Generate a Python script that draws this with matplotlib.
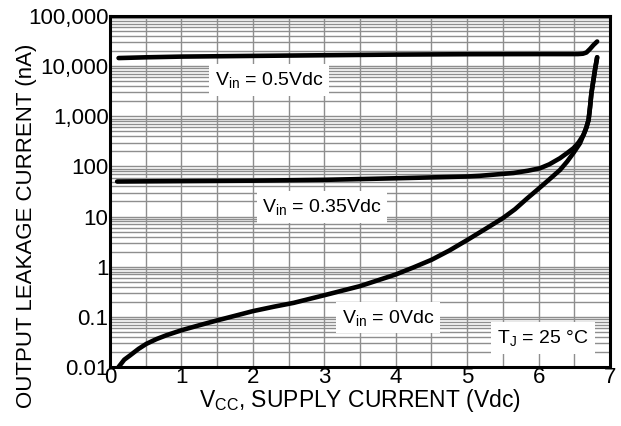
import matplotlib
matplotlib.use("Agg")
import matplotlib.pyplot as plt
import numpy as np

plt.rcParams['font.family'] = ['Liberation Sans', 'DejaVu Sans']
plt.rcParams['mathtext.fontset'] = 'custom'
plt.rcParams['mathtext.rm'] = 'Liberation Sans'
plt.rcParams['mathtext.it'] = 'Liberation Sans'

# ---- data ----
x_05 = [0.12, 0.5, 1, 2, 3, 4, 5, 6, 6.55, 6.62, 6.67, 6.72, 6.77, 6.82]
y_05 = [14500, 15000, 15500, 16000, 16500, 17000, 17300, 17400, 17400, 17700, 18700, 22000, 26500, 31000]

x_035 = [0.1, 1, 2, 3, 4, 5, 5.18, 5.65, 5.85, 6.02, 6.15, 6.3, 6.4, 6.49, 6.56, 6.63,
         6.67, 6.7, 6.72, 6.74, 6.77, 6.79, 6.82]
y_035 = [50, 51, 52, 54, 58, 63, 65, 74, 82, 92, 110, 146, 185, 232, 300, 427,
         600, 850, 1500, 2900, 5500, 8500, 15000]

x_0 = [0.12, 0.2, 0.28, 0.4, 0.51, 0.65, 0.79, 1.0, 1.25, 1.5, 1.75, 2.0, 2.3, 2.57, 3.0,
       3.5, 4.0, 4.25, 4.5, 4.75, 5.0, 5.25, 5.5, 5.67, 5.84, 6.02, 6.15, 6.3, 6.4, 6.49, 6.58,
       6.63, 6.67, 6.7, 6.72, 6.74, 6.77, 6.79, 6.82]
y_0 = [0.01, 0.014, 0.017, 0.023, 0.029, 0.036, 0.043, 0.054, 0.068, 0.085, 0.105, 0.13,
       0.16, 0.19, 0.27, 0.41, 0.70, 0.97, 1.37, 2.1, 3.4, 5.6, 9.3, 14, 23, 38, 55, 85, 125,
       187, 290, 430, 600, 850, 1500, 2900, 5500, 8500, 15000]

ytick_vals = [0.01, 0.1, 1, 10, 100, 1000, 10000, 100000]
ytick_labels = ['0.01', '0.1', '1', '10', '100', '1,000', '10,000', '100,000']
xtick_vals = [0, 1, 2, 3, 4, 5, 6, 7]

labels = [r'V$_{\mathregular{in}}$ = 0.5Vdc', r'V$_{\mathregular{in}}$ = 0.35Vdc',
          r'V$_{\mathregular{in}}$ = 0Vdc', r'T$_{\mathregular{J}}$ = 25 °C']

fig = plt.figure(figsize=(6.21, 4.26), dpi=100)
ax = fig.add_axes([110/621, 1-367/426, 500/621, 351/426])

ax.set_yscale('log')
ax.set_xlim(0, 7)
ax.set_ylim(0.01, 100000)

gc = '#8e8e8e'
# vertical grid every 0.5
for xv in np.arange(0.5, 7.0, 0.5):
    ax.axvline(xv, color=gc, lw=1.0, zorder=1)
# horizontal grid: decades + minors
for d in range(-2, 5):
    for m in range(1, 10):
        v = m * 10.0**d
        if v > 0.01:
            ax.axhline(v, color=gc, lw=1.0, zorder=1)

lw = 3.3
for xs, ys in [(x_05, y_05), (x_035, y_035), (x_0, y_0)]:
    ax.plot(xs, ys, color='black', lw=lw, solid_capstyle='round',
            solid_joinstyle='round', zorder=3)

ax.set_yticks(ytick_vals)
ax.set_yticklabels(ytick_labels)
ax.yaxis.set_minor_locator(matplotlib.ticker.NullLocator())
ax.set_xticks(xtick_vals)
ax.set_xticklabels([str(v) for v in xtick_vals])
ax.tick_params(axis='both', length=0, labelsize=16, colors='black')
ax.tick_params(axis='y', pad=1)
ax.tick_params(axis='x', pad=0)

for s in ax.spines.values():
    s.set_linewidth(2.2)
    s.set_color('black')
    s.set_zorder(5)

bb = dict(facecolor='white', edgecolor='none', pad=4)
pos = [(0.318, 0.818), (0.424, 0.456), (0.556, 0.14), (0.866, 0.083)]
for (px, py), t in zip(pos, labels):
    ax.text(px, py, t, transform=ax.transAxes, ha='center', va='center',
            fontsize=14, bbox=bb, zorder=4)

fig.text(27/621, 1-226/426, 'OUTPUT LEAKAGE CURRENT (nA)', rotation=90,
         ha='center', va='center', fontsize=16)
fig.text(360/621, 1-401/426, r'V$_{\mathregular{CC}}$, SUPPLY CURRENT (Vdc)',
         ha='center', va='center', fontsize=16.5)

fig.savefig('out.png', dpi=100)
